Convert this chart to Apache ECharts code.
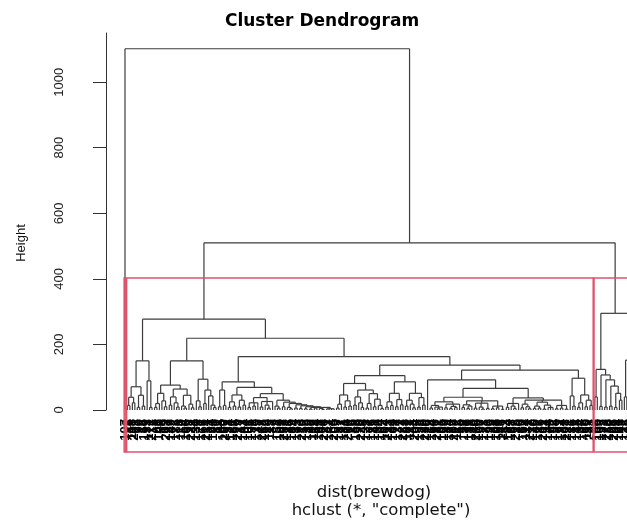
<!DOCTYPE html>
<html>
<head>
<meta charset="utf-8">
<script src="https://cdn.jsdelivr.net/npm/echarts@6/dist/echarts.min.js"></script>
<style>html,body{margin:0;padding:0;background:#fff}#main{width:627px;height:525px}</style>
</head>
<body>
<div id="main"></div>
<script>
// merges are [height, child, child, ...]; a plain number is a leaf (its row label)
var yTicks = [0, 200, 400, 600, 800, 1000];
var plotBottom = -128;   // lower edge of the plot region, rect.hclust boxes end here

var outlier = 107;

var clusterB1 = [150,
  [71, [39, [14, 2, 45], [22, 118, 201]], [45, [8, 77, 90], [12, 13, 156]]],
  [89, 33, [8, 171, 212]]
];

var clusterB2a = [150,
  [76,
    [51, [20, [8, 5, 61], 140], [28, 88, [10, 19, 203]]],
    [64, [40, [15, 27, 149], [22, 72, [9, 185, 3]]], [45, [12, 110, [6, 54, 166]], [18, 98, [7, 222, 41]]]]
  ],
  [94, [28, 130, [10, 8, 177]], [61, [20, 66, 214], [43, 151, [15, 24, [8, 193, 80]]]]]
];

var clusterB2bLeft = [86,
  [61, [10, 11, 95], [14, 160, 207]],
  [69,
    [46, [25, [8, 38, 124], [12, 181, 56]], [30, [9, 229, 17], [15, 143, 84]]],
    [50,
      [38, [22, [8, 101, 6], [12, 191, 70], 135], [26, [9, 47, 218], [15, 162, [6, 29, 115]], 87]],
      [30, [12, 9, [6, 152, 199]], [24, [10, 68, 233], [20, [8, 121, [4, 36, 189]], [16, [6, 14, 173], [13, [5, 92, 210], [10, [4, 52, 139], [8, [3, 25, 196], [6, 113, 64], [5, 168, [2, 43, 226]], [4, 81, 147, 4, 205]]]]]]]]
    ]
  ]
];

var clusterB2bRL = [105,
  [81,
    [46, [18, [6, 59, 187], 22], [28, [9, 131, 74], [12, 200, 16]]],
    [61, [40, [15, 35, 158], [22, 99, [8, 220, 48]]], [50, [20, [6, 123, 7], 176], [33, [10, 85, 141], [14, 30, [5, 194, 62]]]]]
  ],
  [86,
    [51, [25, [9, 104, 213], [14, 21, 169]], [32, [10, 78, 137], [16, 1, 227]]],
    [51, [30, [12, 58, 182], [18, 117, [7, 44, 204]]], [38, [9, 93, 155], [15, 26, 230]]]
  ]
];

var clusterB2bRR = [122,
  [92, 126,
    [66,
      [39,
        [25, [14, [6, 18, 164], [9, 96, [4, 231, 51], 105]], [18, [7, 129, 39], [11, [5, 174, 82], [8, 209, 112]], 65]],
        [28, [16, [8, 10, 153], [12, [5, 76, 188], 133]], [21, [6, 40, 216], [9, 100, [3, 57, 178]], [5, 31, 190]], [12, [4, 125, 23], [7, 198, 69], [2, 146, 211]]]
      ],
      [37,
        [20, [8, 53, 184], [12, 138, [5, 67, 225]], 20],
        [30, [18, [7, 89, 159], [10, 114, [4, 32, 217]]], [24, [12, [5, 170, 46], [6, 127, 86]], [15, [3, 202, 11], [8, 144, 75, 192]]], [14, [4, 55, 179], [6, 97, 134], [3, 108, 221]]]
      ]
    ]
  ],
  [97, [43, 71, [12, 186, 12]], [46, [22, [8, 145, 34], 197], [30, [10, 60, 119], [14, 223, 91]]]]
];

var clusterCLeft = [124, [40, 42, 165], [107, [11, 109, 195], [92, [9, 73, 228], [73, [12, 150, 28], [51, [8, 206, 94], [30, 161, 49]]]]]];
var clusterCRight = [152, [40, 122, 15], [120, [30, 183, 79], [60, 232, [20, 136, 50]]]];

var tree = [1102, outlier,
  [510,
    [277, clusterB1, [219, clusterB2a, [163, clusterB2bLeft, [137, clusterB2bRL, clusterB2bRR]]]],
    [295, clusterCLeft, clusterCRight]
  ]
];

// lay the tree out like plot.hclust: leaves at 1..n, parents over the middle of their children
var segs = [], leaves = [], heights = [];
function place(node) {
  if (typeof node === 'number') {
    leaves.push([leaves.length + 1, node]);
    var i = leaves.length;
    return { x: i, h: 0, first: i, last: i, kids: [] };
  }
  var h = node[0];
  var kids = node.slice(1).map(place);
  var a = kids[0], b = kids[kids.length - 1];
  kids.forEach(function (k) { segs.push([k.x, k.h, k.x, h]); });
  segs.push([a.x, h, b.x, h]);
  heights.push(h);
  return { x: (a.x + b.x) / 2, h: h, first: a.first, last: b.last, kids: kids };
}
var rootInfo = place(tree);

// rect.hclust(k = 3)
heights.sort(function (a, b) { return b - a; });
var rectTop = (heights[1] + heights[2]) / 2;
function cut(info) {
  if (info.h < rectTop) return [info];
  return info.kids.reduce(function (acc, k) { return acc.concat(cut(k)); }, []);
}
var rects = cut(rootInfo).map(function (c) { return [c.first - 0.34, c.last + 0.33, rectTop]; });

var chart = echarts.init(document.getElementById('main'));

chart.setOption({
  animation: false,
  title: {
    text: 'Cluster Dendrogram',
    left: 317, top: 8, textAlign: 'center',
    textStyle: { fontFamily: 'DejaVu Sans', fontWeight: 'bold', fontSize: 17, color: '#000' }
  },
  grid: [
    { left: 106, right: 0, top: 33, bottom: 73 },
    { left: 106, right: 0, top: 33, bottom: 115 }
  ],
  xAxis: [
    { gridIndex: 0, type: 'value', min: -6.72, max: 205.07, show: false },
    { gridIndex: 1, type: 'value', min: 0, max: 1, show: false }
  ],
  yAxis: [
    { gridIndex: 0, type: 'value', min: plotBottom, max: 1150, show: false },
    {
      gridIndex: 1, type: 'value', min: 0, max: 1150,
      axisLine: { show: true, lineStyle: { color: '#333', width: 1 } },
      axisTick: { show: true, length: 13, customValues: yTicks, lineStyle: { color: '#333' } },
      axisLabel: { customValues: yTicks, rotate: 90, margin: 40, fontSize: 13, color: '#222', fontFamily: 'Liberation Sans',
                   formatter: function (v) { return String(v); } },
      splitLine: { show: false }
    }
  ],
  graphic: [
    { type: 'text', x: 21, y: 243, rotation: Math.PI / 2,
      style: { text: 'Height', fontSize: 13, fontFamily: 'Liberation Sans', fill: '#111', align: 'center', verticalAlign: 'middle' } },
    { type: 'text', x: 374, y: 493,
      style: { text: 'dist(brewdog)', fontSize: 16.5, fontFamily: 'DejaVu Sans', fill: '#111', align: 'center', verticalAlign: 'middle' } },
    { type: 'text', x: 381, y: 511,
      style: { text: 'hclust (*, "complete")', fontSize: 16.5, fontFamily: 'DejaVu Sans', fill: '#111', align: 'center', verticalAlign: 'middle' } }
  ],
  series: [
    {
      type: 'custom', xAxisIndex: 0, yAxisIndex: 0, silent: true,
      data: segs,
      encode: { x: [0, 2], y: [1, 3] },
      renderItem: function (params, api) {
        var p = api.coord([api.value(0), api.value(1)]);
        var q = api.coord([api.value(2), api.value(3)]);
        return { type: 'line', shape: { x1: p[0], y1: p[1], x2: q[0], y2: q[1] },
                 style: { stroke: '#3c3c3c', lineWidth: 1.2 } };
      }
    },
    {
      type: 'custom', xAxisIndex: 0, yAxisIndex: 0, silent: true,
      data: leaves,
      encode: { x: 0 },
      renderItem: function (params, api) {
        var p = api.coord([api.value(0), 0]);
        return { type: 'text', x: p[0], y: p[1] + 9, rotation: Math.PI / 2,
                 style: { text: String(leaves[params.dataIndex][1]), fontSize: 13, fontWeight: 'bold',
                          fontFamily: 'Liberation Sans', fill: '#000', align: 'right', verticalAlign: 'middle' } };
      }
    },
    {
      type: 'custom', xAxisIndex: 0, yAxisIndex: 0, silent: true,
      data: rects,
      encode: { x: [0, 1], y: 2 },
      renderItem: function (params, api) {
        var p = api.coord([api.value(0), api.value(2)]);
        var q = api.coord([api.value(1), plotBottom]);
        return { type: 'rect', shape: { x: p[0], y: p[1], width: q[0] - p[0], height: q[1] - p[1] },
                 style: { fill: 'none', stroke: '#DF536B', lineWidth: 1.5 } };
      }
    }
  ]
});
</script>
</body>
</html>
